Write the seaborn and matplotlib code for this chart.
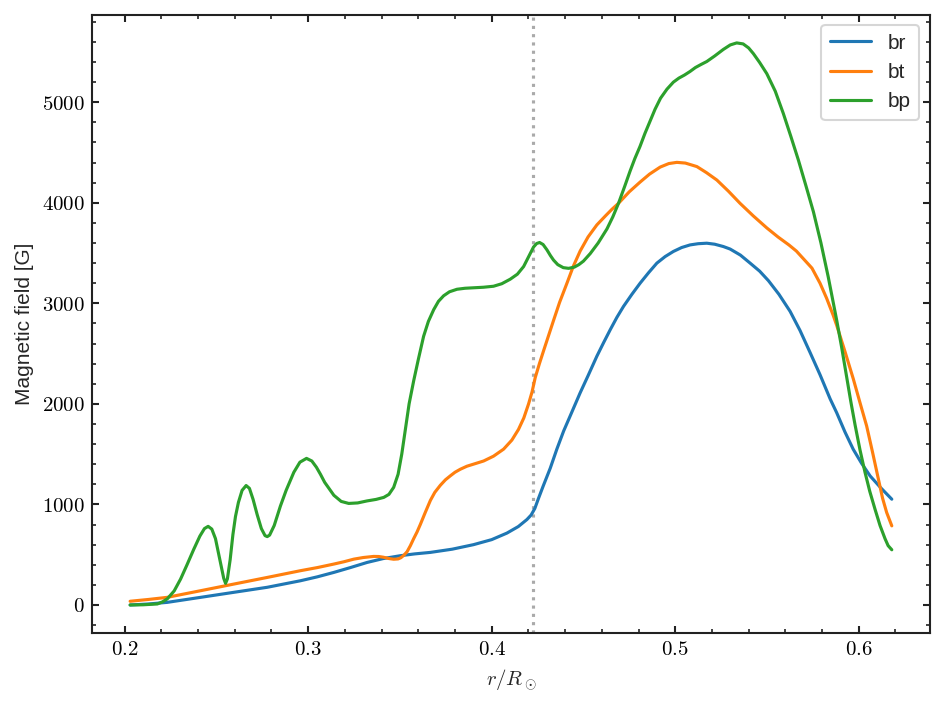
import matplotlib
matplotlib.use("Agg")
import matplotlib.pyplot as plt
import matplotlib.ticker as ticker
import seaborn as sns

# values
r_br = [0.203, 0.213, 0.2232, 0.2414, 0.2595, 0.2777, 0.2958, 0.305, 0.314, 0.323,
        0.3321, 0.341, 0.3502, 0.358, 0.3666, 0.3785, 0.3901, 0.400, 0.4083, 0.4145,
        0.4192, 0.4215, 0.4235, 0.4255, 0.428, 0.4319, 0.4355, 0.4392, 0.443, 0.4482,
        0.4525, 0.4573, 0.461, 0.4646, 0.4682, 0.4718, 0.4764, 0.4809, 0.4855, 0.49,
        0.4945, 0.499, 0.5035, 0.5081, 0.5125, 0.5172, 0.5215, 0.5262, 0.5299, 0.5355,
        0.5408, 0.546, 0.5508, 0.5565, 0.5626, 0.568, 0.5735, 0.5789, 0.5844, 0.588,
        0.5925, 0.597, 0.6015, 0.6062, 0.612, 0.618]
br = [0, 10, 26, 76, 126, 176, 241, 280, 324, 372,
      423, 462, 490, 508, 523, 555, 600, 650, 715, 780,
      850, 895, 960, 1060, 1180, 1360, 1550, 1730, 1890, 2110,
      2280, 2474, 2610, 2738, 2860, 2969, 3090, 3201, 3305, 3400,
      3465, 3516, 3555, 3581, 3593, 3598, 3588, 3565, 3540, 3480,
      3400, 3320, 3225, 3090, 2920, 2730, 2510, 2290, 2050, 1911,
      1720, 1548, 1410, 1283, 1165, 1052]

r_bt = [0.203, 0.213, 0.2232, 0.2414, 0.2595, 0.2777, 0.2958, 0.305, 0.314, 0.3195,
        0.3249, 0.330, 0.3357, 0.3385, 0.341, 0.344, 0.3466, 0.349, 0.3505, 0.352,
        0.3539, 0.3557, 0.3575, 0.3593, 0.3611, 0.3638, 0.3666, 0.369, 0.372, 0.3748,
        0.3775, 0.380, 0.3829, 0.3865, 0.390, 0.3956, 0.401, 0.4065, 0.411, 0.4146,
        0.4175, 0.4201, 0.422, 0.4237, 0.426, 0.4283, 0.431, 0.4337, 0.437, 0.441,
        0.4445, 0.4482, 0.4525, 0.4573, 0.462, 0.4655, 0.4691, 0.475, 0.4808, 0.486,
        0.4918, 0.4965, 0.5009, 0.5055, 0.5118, 0.517, 0.5227, 0.529, 0.5353, 0.5425,
        0.5499, 0.556, 0.562, 0.566, 0.570, 0.5745, 0.5789, 0.5825, 0.5861, 0.588,
        0.5925, 0.597, 0.6007, 0.6043, 0.6075, 0.6106, 0.613, 0.6152, 0.618]
bt = [37, 55, 76, 142, 208, 274, 341, 372, 407, 430,
      456, 472, 483, 482, 475, 462, 455, 458, 470, 492,
      530, 590, 660, 725, 800, 920, 1040, 1120, 1190, 1245,
      1285, 1320, 1350, 1380, 1400, 1432, 1480, 1550, 1640, 1746,
      1860, 2000, 2120, 2260, 2400, 2530, 2680, 2830, 3010, 3200,
      3370, 3520, 3660, 3780, 3870, 3935, 3995, 4110, 4205, 4285,
      4355, 4390, 4402, 4395, 4360, 4300, 4226, 4115, 3995, 3870,
      3750, 3660, 3580, 3520, 3440, 3350, 3200, 3050, 2880, 2780,
      2520, 2250, 2010, 1780, 1520, 1260, 1060, 920, 787]

r_bp = [0.203, 0.210, 0.2178, 0.2205, 0.2232, 0.227, 0.2305, 0.234, 0.2377, 0.241,
        0.2435, 0.2455, 0.2475, 0.2495, 0.251, 0.2525, 0.254, 0.255, 0.256, 0.2575,
        0.259, 0.2604, 0.262, 0.264, 0.2662, 0.268, 0.270, 0.2722, 0.2745, 0.2765,
        0.2777, 0.279, 0.2815, 0.2849, 0.288, 0.2922, 0.2955, 0.2991, 0.302, 0.3045,
        0.3067, 0.309, 0.314, 0.318, 0.3221, 0.327, 0.3321, 0.337, 0.3412, 0.344,
        0.3466, 0.349, 0.351, 0.353, 0.355, 0.3575, 0.360, 0.3629, 0.3655, 0.3684,
        0.371, 0.3738, 0.377, 0.3811, 0.3855, 0.3901, 0.3955, 0.401, 0.4055, 0.4101,
        0.414, 0.4174, 0.420, 0.4228, 0.4245, 0.4261, 0.428, 0.4301, 0.432, 0.4337,
        0.436, 0.439, 0.4419, 0.445, 0.4475, 0.45, 0.4537, 0.458, 0.4628, 0.466,
        0.4691, 0.4725, 0.4754, 0.478, 0.4808, 0.4835, 0.486, 0.489, 0.492, 0.4955,
        0.499, 0.502, 0.505, 0.508, 0.511, 0.514, 0.5172, 0.5215, 0.5262, 0.53,
        0.5335, 0.537, 0.540, 0.5426, 0.546, 0.5499, 0.5545, 0.5589, 0.563, 0.5671,
        0.5712, 0.5753, 0.5794, 0.5834, 0.588, 0.5907, 0.5934, 0.5957, 0.598, 0.6007,
        0.6034, 0.606, 0.6089, 0.6116, 0.6143, 0.616, 0.618]
bp = [0, 2, 10, 30, 60, 140, 258, 400, 555, 685,
      760, 782, 755, 660, 530, 400, 265, 215, 260, 450,
      700, 880, 1020, 1140, 1188, 1160, 1050, 900, 760, 690,
      680, 695, 790, 985, 1140, 1320, 1420, 1458, 1432, 1370,
      1300, 1220, 1091, 1030, 1010, 1015, 1035, 1050, 1070, 1100,
      1170, 1300, 1500, 1750, 2000, 2230, 2440, 2672, 2820, 2937,
      3020, 3075, 3115, 3140, 3150, 3155, 3160, 3170, 3195, 3240,
      3290, 3366, 3460, 3560, 3595, 3605, 3585, 3532, 3475, 3430,
      3385, 3355, 3348, 3360, 3385, 3420, 3495, 3600, 3740, 3860,
      3995, 4165, 4315, 4440, 4560, 4690, 4800, 4930, 5040, 5130,
      5200, 5240, 5270, 5305, 5345, 5375, 5405, 5460, 5525, 5570,
      5590, 5580, 5540, 5483, 5395, 5284, 5110, 4888, 4660, 4425,
      4170, 3910, 3600, 3260, 2830, 2560, 2270, 2020, 1790, 1540,
      1320, 1130, 950, 790, 660, 590, 549]

r_mark = 0.4226

sns.set_style("ticks")
plt.rcParams['mathtext.fontset'] = 'cm'
plt.rcParams['font.family'] = ['Liberation Sans', 'DejaVu Sans']

fig, ax = plt.subplots(figsize=(6.3, 4.7), dpi=150)
fig.subplots_adjust(left=0.0974, right=0.984, bottom=0.102, top=0.979)

sns.lineplot(x=r_br, y=br, ax=ax, color='#1f77b4', lw=1.5, label='br', estimator=None)
sns.lineplot(x=r_bt, y=bt, ax=ax, color='#ff7f0e', lw=1.5, label='bt', estimator=None)
sns.lineplot(x=r_bp, y=bp, ax=ax, color='#2ca02c', lw=1.5, label='bp', estimator=None)
ax.axvline(r_mark, color='#aaaaaa', ls=':', lw=1.5, zorder=0)

ax.margins(x=0.05, y=0.05)
ax.xaxis.set_major_locator(ticker.MultipleLocator(0.1))
ax.xaxis.set_minor_locator(ticker.MultipleLocator(0.02))
ax.yaxis.set_major_locator(ticker.MultipleLocator(1000))
ax.yaxis.set_minor_locator(ticker.MultipleLocator(200))
ax.xaxis.set_major_formatter(ticker.FuncFormatter(lambda v, p: f'${v:.1f}$'))
ax.yaxis.set_major_formatter(ticker.FuncFormatter(lambda v, p: f'${v:.0f}$'))

ax.tick_params(which='both', direction='in', top=True, right=True, colors='#222222',
               labelcolor='black', labelsize=10)
ax.tick_params(which='major', length=3.5, width=1)
ax.tick_params(which='minor', length=2, width=0.8)
for s in ax.spines.values():
    s.set_linewidth(1.0)
    s.set_color('#222222')

ax.set_xlabel(r'$r/R_\odot$', fontsize=10)
ax.set_ylabel('Magnetic field [G]', fontsize=10)
ax.legend(loc='upper right', fontsize=10)

fig.savefig('out.png', dpi=150)
